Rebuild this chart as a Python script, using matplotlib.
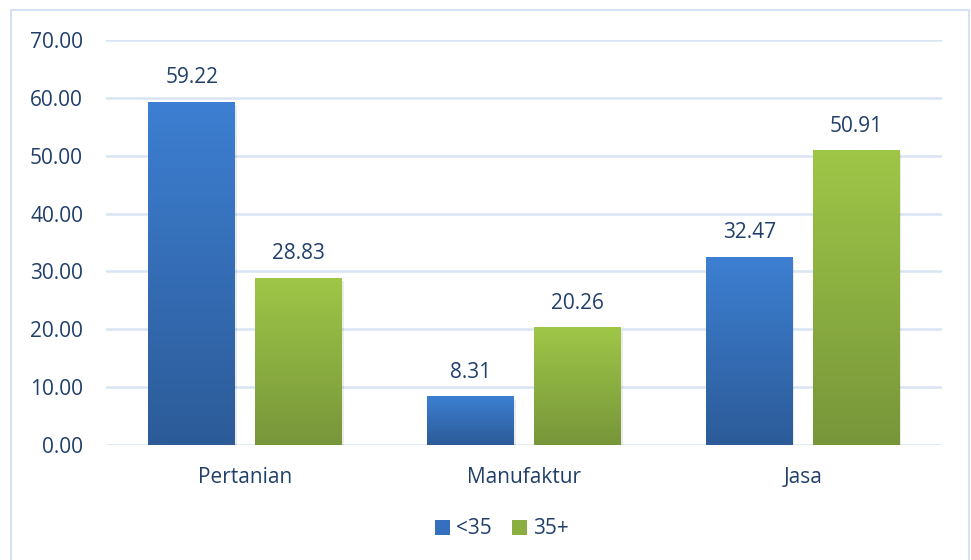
import numpy as np
import matplotlib.pyplot as plt
from matplotlib.colors import LinearSegmentedColormap
from matplotlib.patches import Rectangle

categories = ["Pertanian", "Manufaktur", "Jasa"]
under35 = [59.22, 8.31, 32.47]
over35 = [28.83, 20.26, 50.91]
series_names = ["<35", "35+"]
yticks = [0, 10, 20, 30, 40, 50, 60, 70]

text_color = "#203f6b"
grid_color = "#d9e4f4"
blue_cmap = LinearSegmentedColormap.from_list("b", ["#2c5b98", "#3d7fd2"])
green_cmap = LinearSegmentedColormap.from_list("g", ["#77963a", "#9fc647"])

plt.rcParams['font.family'] = ['Open Sans', 'DejaVu Sans']

fig = plt.figure(figsize=(9.71, 5.6), dpi=100)
fig.patches.append(Rectangle((11 / 971, -0.02), 958 / 971, 1 - 10 / 560 + 0.02,
                             transform=fig.transFigure, fill=False,
                             edgecolor="#d5e2f4", linewidth=1.5))
ax = fig.add_axes([106 / 971, 1 - 445 / 560, 836 / 971, 405 / 560])

x = np.arange(len(categories))
width = 0.312
offset = 0.192
grad = np.linspace(0, 1, 256).reshape(-1, 1)

def draw_bars(xs, vals, cmap):
    for xc, v in zip(xs, vals):
        # soft shadow
        ax.add_patch(Rectangle((xc - width / 2 + 0.006, -0.5), width, v,
                               facecolor="#000000", alpha=0.08, zorder=2,
                               linewidth=0))
        ax.imshow(grad, cmap=cmap, origin="lower", aspect="auto",
                  extent=(xc - width / 2, xc + width / 2, 0, v), zorder=3)
        ax.text(xc, v + 2.4, f"{v:.2f}", ha="center", va="bottom",
                fontsize=15, color=text_color)

draw_bars(x - offset, under35, blue_cmap)
draw_bars(x + offset, over35, green_cmap)

ax.set_xlim(-0.5, 2.5)
ax.set_ylim(0, 70)
ax.set_yticks(yticks)
ax.set_yticklabels([f"{t:.2f}" for t in yticks])
ax.set_xticks(x)
ax.set_xticklabels(categories)
ax.yaxis.grid(True, color=grid_color, linewidth=1.8)
ax.set_axisbelow(True)
for s in ax.spines.values():
    s.set_visible(False)
ax.tick_params(axis="both", length=0, colors=text_color, labelsize=15)
ax.tick_params(axis="y", pad=16.5)
ax.tick_params(axis="x", pad=16)

handles = [Rectangle((0, 0), 1, 1, facecolor="#3470bd"),
           Rectangle((0, 0), 1, 1, facecolor="#8aaf40")]
fig.legend(handles, series_names, loc="center", bbox_to_anchor=(502 / 971, 1 - 529 / 560),
           ncol=2, frameon=False, fontsize=15, labelcolor=text_color,
           handlelength=0.7, handleheight=0.7, handletextpad=0.3, columnspacing=1.0)

fig.savefig("out.png", dpi=100)
